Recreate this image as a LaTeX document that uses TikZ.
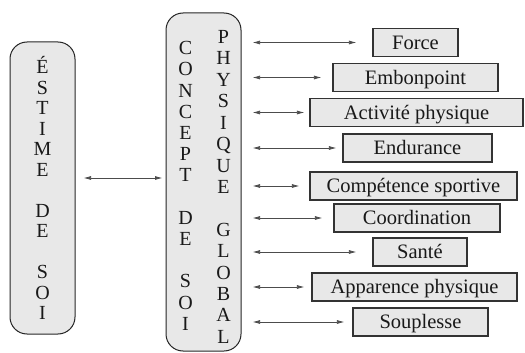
\documentclass[tikz,border=0pt]{standalone}
\usepackage{fontspec}
\setmainfont{Liberation Serif}
\usetikzlibrary{arrows.meta}
\begin{document}
\begin{tikzpicture}[x=1pt,y=-1pt,
  pillar/.style={draw=black!85, line width=1pt, fill=black!9,
    rounded corners=17pt, inner sep=0pt},
  letter/.style={anchor=base, inner sep=0pt,
    font=\fontsize{20}{20}\selectfont, text=black!90},
  item/.style={draw=black!80, line width=1.1pt, fill=black!9,
    minimum height=28pt, inner sep=0pt, text height=13.5pt, text depth=0pt,
    font=\fontsize{20.5}{20.5}\selectfont, text=black!90},
  link/.style={draw=black!70, line width=0.75pt,
    {Latex[length=7.5pt,width=4pt]}-{Latex[length=7.5pt,width=4pt]}}
]
\useasboundingbox (0,0) rectangle (525,353);

% the two vertical pillars
\node[pillar, minimum width=65pt, minimum height=292pt] (estime) at (42.5,188) {};
\node[pillar, minimum width=75pt, minimum height=338pt] (concept) at (203.5,182) {};

% vertical lettering
\foreach \r/\c in {1/É,2/S,3/T,4/I,5/M,6/E,8/D,9/E,11/S,12/O,13/I}
  \node[letter] (es-\r) at (42.5,{73.6+(\r-1)*20.5}) {\c};
\foreach \r/\c in {1/C,2/O,3/N,4/C,5/E,6/P,7/T,9/D,10/E,12/S,13/O,14/I}
  \node[letter] (cs-\r) at (185.5,{54.6+(\r-1)*21.2}) {\c};
\foreach \r/\c in {1/P,2/H,3/Y,4/S,5/I,6/Q,7/U,8/E,10/G,11/L,12/O,13/B,14/A,15/L}
  \node[letter] (pg-\r) at (223.5,{43.6+(\r-1)*21.4}) {\c};

% link between the pillars
\coordinate (mid) at (120,178);
\draw[link, shorten <=8pt, shorten >=3pt] (estime.east |- mid) -- (concept.west |- mid);

% the nine components and their links
\foreach \n/\x/\y/\w/\g/\t in {
  f/415.5/42.5/85/16/Force,
  e/415.5/77.5/165/11/Embonpoint,
  a/416.5/112.5/213/5/Activité physique,
  en/417.5/148/149/6/Endurance,
  c/413.5/186/207/10/Compétence sportive,
  co/417/218/166/11/Coordination,
  s/420/252/94/16/Santé,
  ap/414.5/287/205/7/Apparence physique,
  so/420.5/322/135/8/Souplesse}
{
  \node[item, minimum width=\w pt] (\n) at (\x,\y) {\t};
  \draw[link, shorten <=11pt, shorten >=\g pt] (concept.east |- \n.west) -- (\n.west);
}
\end{tikzpicture}
\end{document}
